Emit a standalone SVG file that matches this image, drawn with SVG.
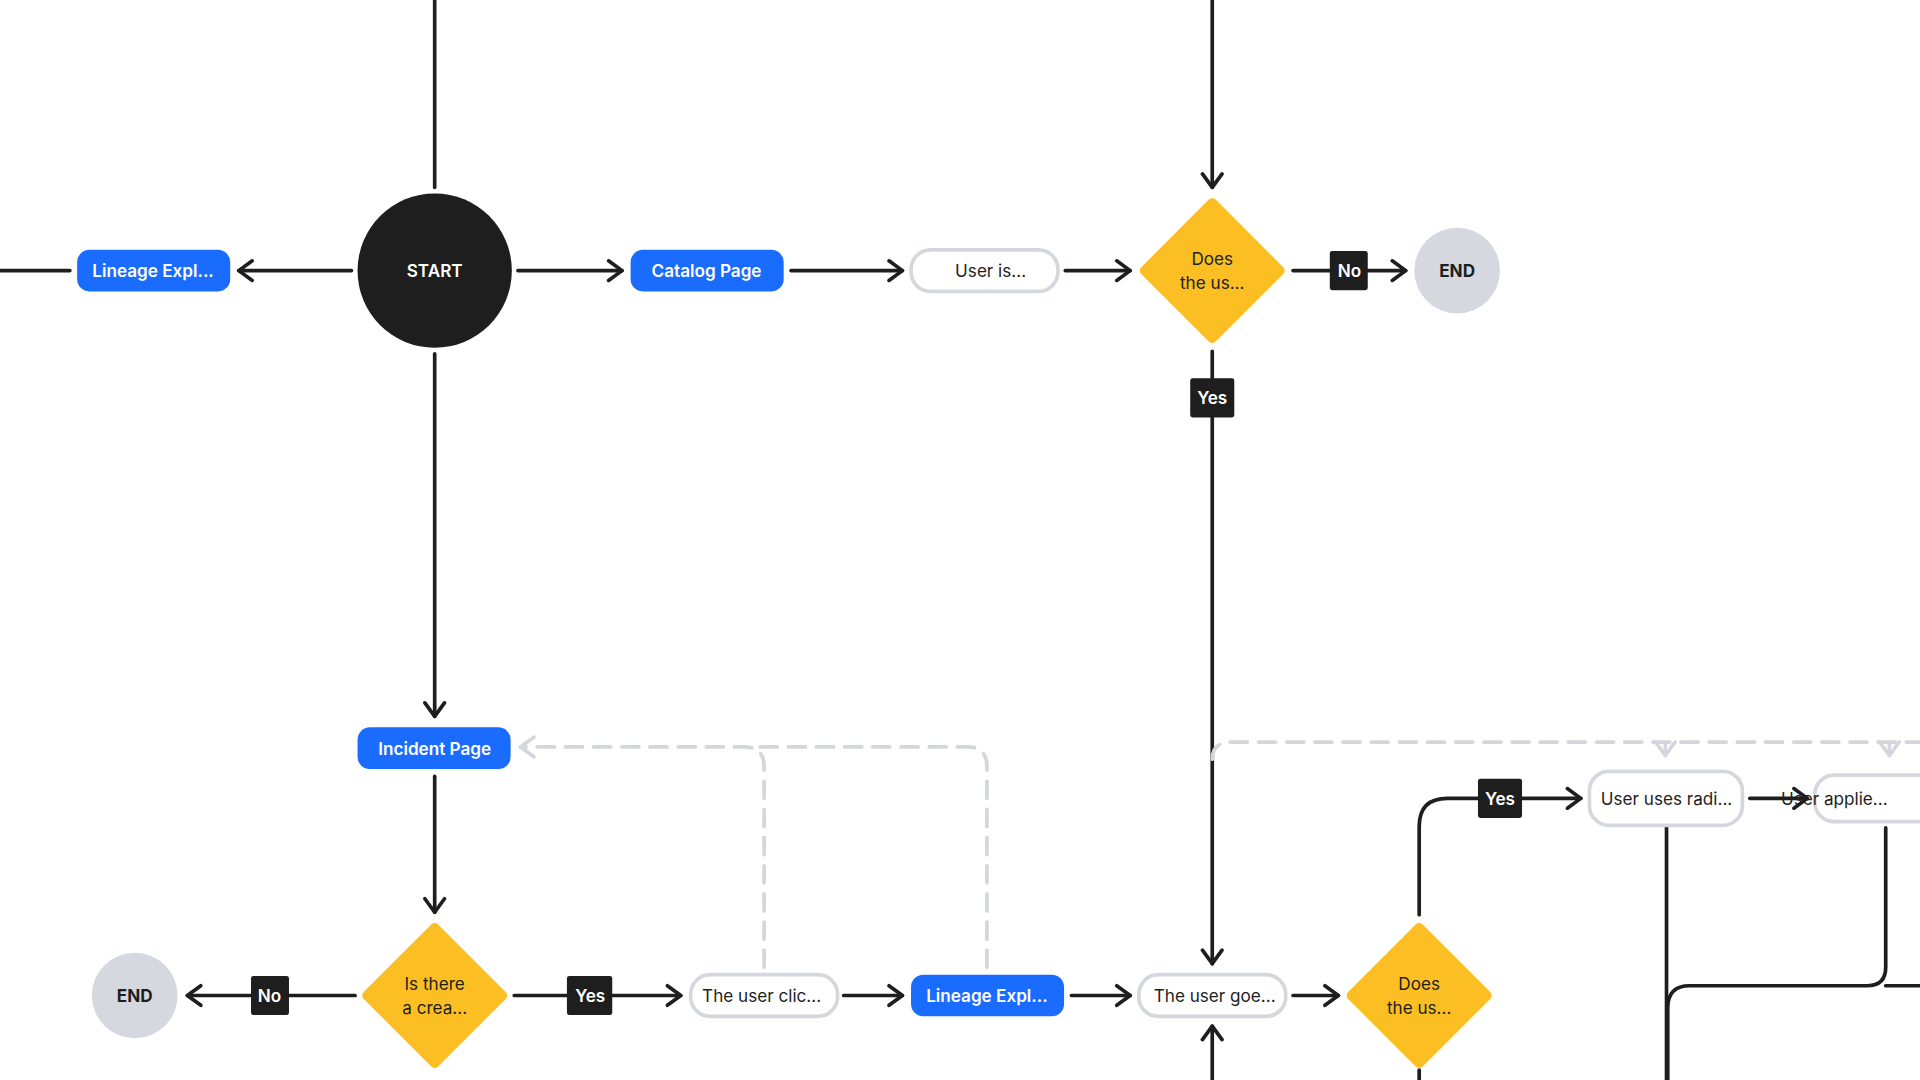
<svg xmlns="http://www.w3.org/2000/svg" width="1920" height="1080" viewBox="0 0 1920 1080">
<defs>
<marker id="a" viewBox="0 0 20 20" refX="17" refY="10" markerWidth="20" markerHeight="20" markerUnits="userSpaceOnUse" orient="auto"><path d="M6 2 L17 10 L6 18" fill="none" stroke="#1e1e1e" stroke-width="3" stroke-linecap="round" stroke-linejoin="round"/></marker>
<marker id="g" viewBox="0 0 20 20" refX="17" refY="10" markerWidth="20" markerHeight="20" markerUnits="userSpaceOnUse" orient="auto"><path d="M6 2 L17 10 L6 18" fill="none" stroke="#d3d6dc" stroke-width="3" stroke-linecap="round" stroke-linejoin="round"/></marker>
</defs>
<style>
.l{fill:none;stroke:#1e1e1e;stroke-width:3;stroke-linecap:round}
.d{fill:none;stroke:#d3d6dc;stroke-width:3;stroke-dasharray:14 9;stroke-linecap:round}
.blue{fill:#1a6cff}
.w{fill:#fff;stroke:#d4d7dd;stroke-width:3}
.dia{fill:#fbbf24}
.t{font-family:Inter,"Liberation Sans",sans-serif;font-size:14px;text-anchor:middle;dominant-baseline:central}
.bt{fill:#fff;font-weight:600}
.dt{fill:#1e1e1e}
.lbl{fill:#1e1e1e}
</style>
<rect width="1920" height="1080" fill="#fff"/>
<g transform="scale(1.22449)">
<g id="connectors">
<path class="l" d="M355 0 V153"/>
<path class="l" d="M355 289 V585" marker-end="url(#a)"/>
<path class="l" d="M990 0 V153" marker-end="url(#a)"/>
<path class="l" d="M0 221 H57"/>
<path class="l" d="M287 221 H195" marker-end="url(#a)"/>
<path class="l" d="M423 221 H508" marker-end="url(#a)"/>
<path class="l" d="M646 221 H737" marker-end="url(#a)"/>
<path class="l" d="M870 221 H923" marker-end="url(#a)"/>
<path class="l" d="M1056 221 H1086"/>
<path class="l" d="M1117 221 H1148" marker-end="url(#a)"/>
<path class="l" d="M990 287 V309"/>
<path class="l" d="M990 341 V787" marker-end="url(#a)"/>
<path class="l" d="M355 634 V745" marker-end="url(#a)"/>
<path class="l" d="M290 813 H236"/>
<path class="l" d="M205 813 H153" marker-end="url(#a)"/>
<path class="l" d="M420 813 H463"/>
<path class="l" d="M500 813 H556" marker-end="url(#a)"/>
<path class="l" d="M689 813 H737" marker-end="url(#a)"/>
<path class="l" d="M875 813 H923" marker-end="url(#a)"/>
<path class="l" d="M1056 813 H1093" marker-end="url(#a)"/>
<path class="l" d="M990 882 V838" marker-end="url(#a)"/>
<path class="l" d="M1159 747 V675 Q1159 652 1182 652 H1207"/>
<path class="l" d="M1243 652 H1291" marker-end="url(#a)"/>
<path class="l" d="M1429 652 H1476" marker-end="url(#a)"/>
<path class="l" d="M1361 676 V882"/>
<path class="l" d="M1540 676 V790 Q1540 805 1525 805 H1380 Q1362 805 1362 823 V882"/>
<path class="l" d="M1540 805 H1568"/>
<path class="l" d="M1159 874 V882"/>
<path class="d" d="M624 790 V626 Q624 610 608 610 H425" marker-end="url(#g)"/>
<path class="d" d="M806 790 V626 Q806 610 790 610 H620"/>
<path class="d" d="M990 620 Q990 606 1006 606 H1568"/>
<path class="d" d="M1360 606 V617" marker-end="url(#g)" stroke-dasharray="none"/>
<path class="d" d="M1543 606 V617" marker-end="url(#g)" stroke-dasharray="none"/>
</g>
<g id="start"><circle cx="355" cy="221" r="63" fill="#1e1e1e"/><text class="t bt" x="355" y="221" font-size="19" font-weight="700">START</text></g>
<g id="lineage1"><rect class="blue" x="63" y="204" width="125" height="34" rx="10"/><text class="t bt" x="125" y="221">Lineage Expl...</text></g>
<g id="catalog"><rect class="blue" x="515" y="204" width="125" height="34" rx="10"/><text class="t bt" x="577" y="221">Catalog Page</text></g>
<g id="useris"><rect class="w" x="744" y="204" width="120" height="34" rx="16"/><text class="t dt" x="809" y="221">User is...</text></g>
<g id="dec1"><rect class="dia" x="947" y="178" width="86" height="86" rx="4" transform="rotate(45 990 221)"/><text class="t dt" x="990" y="211" font-size="13">Does</text><text class="t dt" x="990" y="231" font-size="13">the us...</text></g>
<g id="no1"><rect x="1086" y="205" width="31" height="32" rx="2" fill="#1e1e1e"/><text class="t bt" x="1102" y="221" font-weight="400">No</text></g>
<g id="end1"><circle cx="1190" cy="221" r="35" fill="#d5d8de"/><text class="t dt" x="1190" y="221" font-size="19" font-weight="700">END</text></g>
<g id="yes1"><rect x="972" y="309" width="36" height="32" rx="2" fill="#1e1e1e"/><text class="t bt" x="990" y="325" font-weight="400">Yes</text></g>
<g id="incident"><rect class="blue" x="292" y="594" width="125" height="34" rx="10"/><text class="t bt" x="355" y="611">Incident Page</text></g>
<g id="dec2"><rect class="dia" x="312" y="770" width="86" height="86" rx="4" transform="rotate(45 355 813)"/><text class="t dt" x="355" y="803" font-size="13">Is there</text><text class="t dt" x="355" y="823" font-size="13">a crea...</text></g>
<g id="no2"><rect x="205" y="797" width="31" height="32" rx="2" fill="#1e1e1e"/><text class="t bt" x="220" y="813" font-weight="400">No</text></g>
<g id="end2"><circle cx="110" cy="813" r="35" fill="#d5d8de"/><text class="t dt" x="110" y="813" font-size="19" font-weight="700">END</text></g>
<g id="yes2"><rect x="463" y="797" width="37" height="32" rx="2" fill="#1e1e1e"/><text class="t bt" x="482" y="813" font-weight="400">Yes</text></g>
<g id="userclic"><rect class="w" x="564" y="796" width="120" height="34" rx="16"/><text class="t dt" x="622" y="813">The user clic...</text></g>
<g id="lineage2"><rect class="blue" x="744" y="796" width="125" height="34" rx="10"/><text class="t bt" x="806" y="813">Lineage Expl...</text></g>
<g id="usergoe"><rect class="w" x="930" y="796" width="120" height="34" rx="16"/><text class="t dt" x="992" y="813">The user goe...</text></g>
<g id="dec3"><rect class="dia" x="1116" y="770" width="86" height="86" rx="4" transform="rotate(45 1159 813)"/><text class="t dt" x="1159" y="803" font-size="13">Does</text><text class="t dt" x="1159" y="823" font-size="13">the us...</text></g>
<g id="yes3"><rect x="1207" y="636" width="36" height="32" rx="2" fill="#1e1e1e"/><text class="t bt" x="1225" y="652" font-weight="400">Yes</text></g>
<g id="radi"><rect class="w" x="1298" y="630" width="125" height="44" rx="16"/><text class="t dt" x="1361" y="652">User uses radi...</text></g>
<g id="applie"><rect class="w" x="1482" y="633" width="125" height="38" rx="16"/><text class="t dt" x="1498" y="652" text-anchor="start">User applie...</text></g>
</g>
</svg>
